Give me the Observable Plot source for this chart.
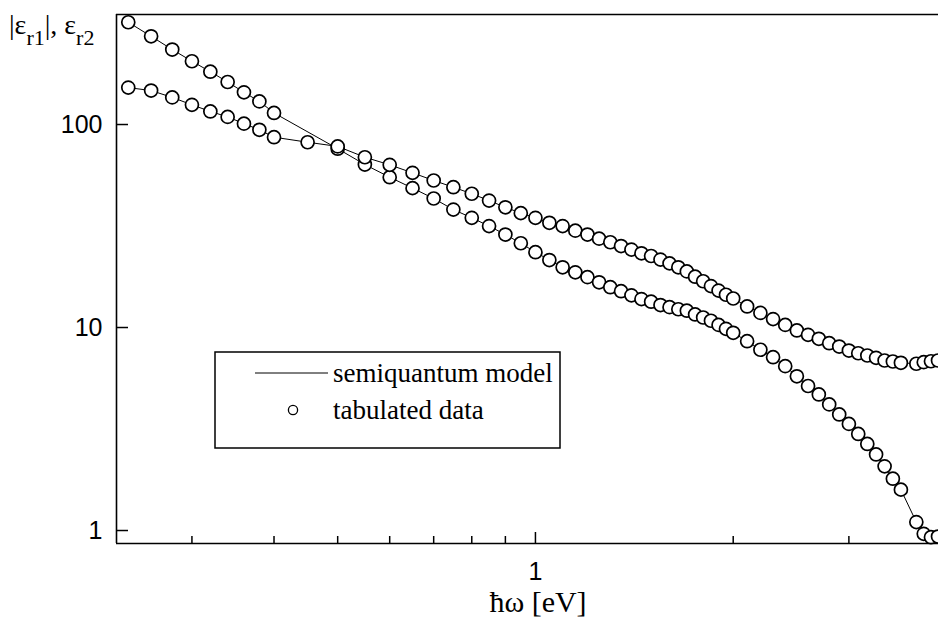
<!DOCTYPE html>
<html>
<head>
<meta charset="utf-8">
<script src="https://cdn.jsdelivr.net/npm/d3@7"></script>
<script src="https://cdn.jsdelivr.net/npm/@observablehq/plot@0.6"></script>
<style>
  html, body { margin: 0; padding: 0; background: #fff; }
  #chart { width: 938px; height: 622px; overflow: hidden; }
  .serif-text { font-family: 'Liberation Serif', 'Times New Roman', serif; fill: #000; }
</style>
</head>
<body>
<div id="chart"></div>
<script>
// photon energy (eV) for |eps_r1|
const energy1 = [0.24,0.26,0.28,0.30,0.32,0.34,0.36,0.38,0.40,
  0.50,0.55,0.60,0.65,0.70,0.75,0.80,0.85,0.90,0.95,1.00,1.05,1.10,1.15,1.20,1.25,1.30,1.35,1.40,1.45,1.50,
  1.55,1.60,1.65,1.70,1.75,1.80,1.85,1.90,1.95,2.00,
  2.1,2.2,2.3,2.4,2.5,2.6,2.7,2.8,2.9,3.0,3.1,3.2,3.3,3.4,3.5,3.6,3.8,3.9,4.0,4.1];
const eps1 = [319,272,234,205,182,162,144,130,114,
  76,63.5,55.0,48.6,43.2,38.1,34.7,31.6,28.7,26.0,23.5,21.5,19.8,18.7,17.7,16.7,15.8,15.1,14.4,13.8,13.4,
  12.9,12.6,12.3,12.1,11.6,11.2,10.8,10.3,9.85,9.42,
  8.56,7.77,7.14,6.45,5.75,5.15,4.68,4.18,3.73,3.35,2.99,2.67,2.37,2.07,1.80,1.59,1.10,0.963,0.927,0.934];

// photon energy (eV) for eps_r2
const energy2 = [0.24,0.26,0.28,0.30,0.32,0.34,0.36,0.38,0.40,0.45,
  0.50,0.55,0.60,0.65,0.70,0.75,0.80,0.85,0.90,0.95,1.00,1.05,1.10,1.15,1.20,1.25,1.30,1.35,1.40,1.45,1.50,
  1.55,1.60,1.65,1.70,1.75,1.80,1.85,1.90,1.95,2.00,
  2.1,2.2,2.3,2.4,2.5,2.6,2.7,2.8,2.9,3.0,3.1,3.2,3.3,3.4,3.5,3.6,3.8,3.9,4.0,4.1];
const eps2 = [152,147,136,125,116,109,101,94.2,86.6,81.8,
  78,69.0,63.3,57.8,53.0,49.1,45.6,42.2,39.1,36.6,34.7,32.8,31.6,30.0,28.7,27.4,26.3,25.2,24.2,23.2,22.5,
  21.6,20.7,19.8,18.9,17.8,16.9,16.0,15.2,14.5,13.9,
  12.7,11.8,11.0,10.3,9.67,9.20,8.80,8.37,8.06,7.70,7.47,7.28,7.09,6.88,6.80,6.70,6.63,6.75,6.82,6.88];

const yTicks = [1, 10, 100];
const xMajorTicks = [1];
const xMinorTicks = [0.3,0.4,0.5,0.6,0.7,0.8,0.9,2,3,4];
const xDomain = [0.2303, 4.107];
const yDomain = [0.863, 348.3];
const legendLabels = ["semiquantum model", "tabulated data"];
const xTitle = "ħω [eV]";

const s1 = energy1.map((e, i) => ({e, v: eps1[i]}));
const s2 = energy2.map((e, i) => ({e, v: eps2[i]}));

const sans = "'Liberation Sans', Arial, sans-serif";

const svg = Plot.plot({
  width: 938,
  height: 622,
  marginLeft: 116,
  marginRight: 0,
  marginTop: 14,
  marginBottom: 79,
  style: { fontFamily: sans, fontSize: "25px", background: "#fff", color: "#000", overflow: "hidden" },
  x: { type: "log", domain: xDomain },
  y: { type: "log", domain: yDomain },
  marks: [
    Plot.ruleX([xDomain[0]], { stroke: "#000", strokeWidth: 1.6 }),
    Plot.ruleY([yDomain[0], yDomain[1]], { stroke: "#000", strokeWidth: 1.6 }),
    Plot.axisY({ ticks: yTicks, tickSize: -12, tickPadding: 26, tickFormat: d => String(d), label: null, strokeWidth: 1.5, fontSize: 25 }),
    Plot.axisX({ ticks: xMajorTicks, tickSize: -11, tickPadding: 30, tickFormat: d => String(d), label: null, strokeWidth: 1.5, fontSize: 25 }),
    Plot.axisX({ ticks: xMinorTicks, tickSize: -7, tickFormat: () => "", label: null, strokeWidth: 1.5 }),
    Plot.line(s1, { x: "e", y: "v", stroke: "#000", strokeWidth: 1 }),
    Plot.line(s2, { x: "e", y: "v", stroke: "#000", strokeWidth: 1 }),
    Plot.dot(s1, { x: "e", y: "v", r: 6.5, fill: "#fff", stroke: "#000", strokeWidth: 1.7 }),
    Plot.dot(s2, { x: "e", y: "v", r: 6.5, fill: "#fff", stroke: "#000", strokeWidth: 1.7 })
  ]
});

const g = d3.select(svg);

// y-axis title with subscripts
const yt = g.append("text").attr("class", "serif-text").attr("x", 9).attr("y", 34)
  .style("font-size", "28px").style("text-anchor", "start");
yt.append("tspan").text("|ε");
yt.append("tspan").attr("dy", 11).style("font-size", "22px").text("r1");
yt.append("tspan").attr("dy", -11).text("|, ε");
yt.append("tspan").attr("dy", 11).style("font-size", "22px").text("r2");

// x-axis title
g.append("text").attr("class", "serif-text").attr("x", 538).attr("y", 612)
  .style("text-anchor", "middle").style("font-size", "30px").text(xTitle);

// legend
const lg = g.append("g");
lg.append("rect").attr("x", 215).attr("y", 352).attr("width", 345).attr("height", 96)
  .attr("fill", "#fff").attr("stroke", "#000").attr("stroke-width", 1.5);
lg.append("line").attr("x1", 255).attr("x2", 328).attr("y1", 373).attr("y2", 373)
  .attr("stroke", "#000").attr("stroke-width", 1);
lg.append("circle").attr("cx", 293).attr("cy", 410).attr("r", 4.6)
  .attr("fill", "#fff").attr("stroke", "#000").attr("stroke-width", 1.3);
lg.append("text").attr("class", "serif-text").attr("x", 333).attr("y", 382)
  .style("text-anchor", "start").style("font-size", "27px").text(legendLabels[0]);
lg.append("text").attr("class", "serif-text").attr("x", 333).attr("y", 419)
  .style("text-anchor", "start").style("font-size", "27px").text(legendLabels[1]);

document.getElementById("chart").appendChild(svg);
</script>
</body>
</html>
